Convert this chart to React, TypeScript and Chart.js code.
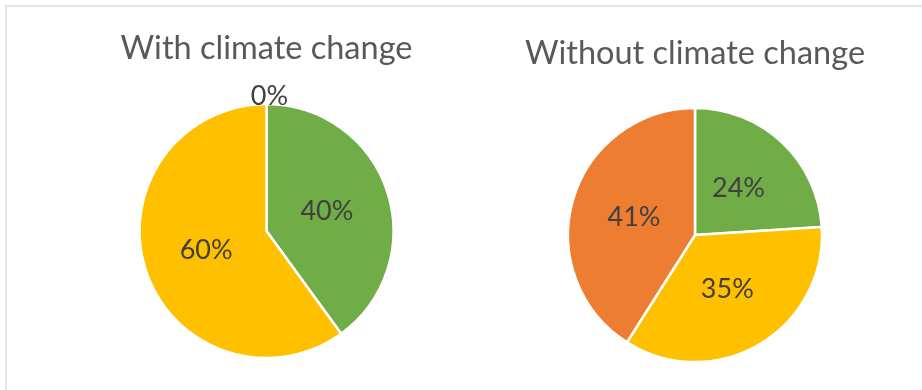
import React, { useEffect, useRef } from "react";
import { Chart, registerables } from "chart.js";

Chart.register(...registerables);

const categories = ["Category A", "Category B", "Category C"];
const withClimateValues = [40, 60, 0];
const withoutClimateValues = [24, 35, 41];
const titles = ["With climate change", "Without climate change"];
const sliceColors = ["#70AD47", "#FFC000", "#ED7D31"];

const FONT = "Lato, 'Open Sans', sans-serif";

const labelPlugin = {
  id: "sliceLabels",
  afterDatasetsDraw(chart: any) {
    const ctx = chart.ctx;
    const meta = chart.getDatasetMeta(0);
    const data = chart.data.datasets[0].data as number[];
    ctx.save();
    ctx.font = `27px ${FONT}`;
    ctx.fillStyle = "#404040";
    ctx.textAlign = "center";
    ctx.textBaseline = "middle";
    meta.data.forEach((arc: any, i: number) => {
      const v = data[i];
      const p = arc.getProps(["x", "y", "startAngle", "endAngle", "outerRadius"], true);
      const mid = (p.startAngle + p.endAngle) / 2;
      const dist = v === 0 ? p.outerRadius + 8 : p.outerRadius * 0.5;
      const x = p.x + Math.cos(mid) * dist + (v === 0 ? 3 : 0);
      const y = p.y + Math.sin(mid) * dist;
      ctx.fillText(`${v}%`, x, y);
    });
    ctx.restore();
  },
};

function PieChart({
  values,
  title,
  padding,
  titleTop,
}: {
  values: number[];
  title: string;
  padding: { left: number; right: number; top: number; bottom: number };
  titleTop: number;
}) {
  const ref = useRef<HTMLCanvasElement>(null);
  useEffect(() => {
    if (!ref.current) return;
    const chart = new Chart(ref.current, {
      type: "pie",
      data: {
        labels: categories,
        datasets: [
          {
            data: values,
            backgroundColor: sliceColors,
            borderColor: "#ffffff",
            borderWidth: 2.5,
            radius: 127,
          } as any,
        ],
      },
      options: {
        animation: false,
        responsive: false,
        layout: { padding },
        plugins: {
          legend: { display: false },
          tooltip: { enabled: false },
          title: {
            display: true,
            text: title,
            color: "#595959",
            font: { family: FONT, size: 32.5, weight: "normal", lineHeight: 1.2 },
            padding: { top: titleTop, bottom: 8 },
          },
        },
      },
      plugins: [labelPlugin],
    });
    return () => chart.destroy();
  }, []);
  return <canvas ref={ref} width={461} height={390} style={{ display: "block" }} />;
}

export default function App() {
  return (
    <div
      style={{
        position: "fixed",
        left: 0,
        top: 0,
        width: 922,
        height: 390,
        background: "#ffffff",
        overflow: "hidden",
      }}
    >
      <div
        style={{
          position: "absolute",
          left: 5,
          top: 5,
          width: 940,
          height: 400,
          borderTop: "2px solid #e4e4e4",
          borderLeft: "2px solid #e4e4e4",
        }}
      />
      <div style={{ position: "absolute", left: 0, top: 0 }}>
        <PieChart
          values={withClimateValues}
          title={titles[0]}
          padding={{ left: 72, right: 0, top: 0, bottom: 4 }}
          titleTop={29}
        />
      </div>
      <div style={{ position: "absolute", left: 461, top: 0 }}>
        <PieChart
          values={withoutClimateValues}
          title={titles[1]}
          padding={{ left: 7, right: 0, top: 0, bottom: 1 }}
          titleTop={34}
        />
      </div>
    </div>
  );
}
